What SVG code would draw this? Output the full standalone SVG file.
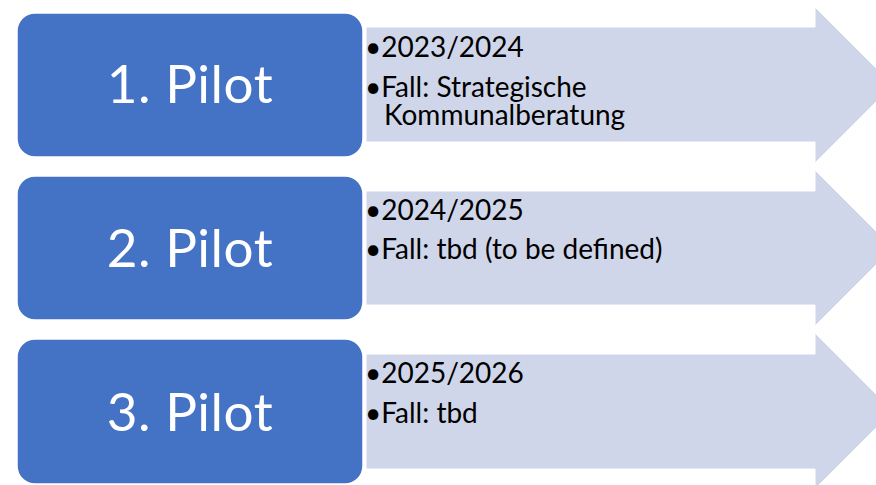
<svg xmlns="http://www.w3.org/2000/svg" width="876" height="485" viewBox="0 0 876 485">
<style>
.arrow{fill:#D0D6EA;stroke:#FFFFFF;stroke-width:1}
.box{fill:#4472C4;stroke:#FFFFFF;stroke-width:1.5}
.title{font-family:Lato,"Open Sans","Liberation Sans",sans-serif;font-size:53px;letter-spacing:0.5px;fill:#FFFFFF;text-anchor:middle}
.item{font-family:Lato,"Open Sans","Liberation Sans",sans-serif;font-size:28px;fill:#000000}
</style>
<rect width="876" height="485" fill="#FFFFFF"/>
<g id="connectors">
<polygon class="arrow" points="366,27 815,27 815,7 893,85 815,163 815,142 366,142"/>
<polygon class="arrow" points="366,191 815,191 815,170 893,248 815,326 815,305 366,305"/>
<polygon class="arrow" points="366,354 815,354 815,333 893,411 815,489 815,469 366,469"/>
</g>
<g id="node1">
<rect class="box" x="17" y="13" width="346" height="144" rx="18" ry="18"/>
<text class="title" x="190" y="103">1. Pilot</text>
<text class="item" x="365" y="57">•2023/2024</text>
<text class="item"><tspan x="365" y="97">•Fall: Strategische</tspan><tspan x="384" y="125">Kommunalberatung</tspan></text>
</g>
<g id="node2">
<rect class="box" x="17" y="176" width="346" height="144" rx="18" ry="18"/>
<text class="title" x="190" y="267">2. Pilot</text>
<text class="item" x="365" y="220">•2024/2025</text>
<text class="item" x="365" y="259">•Fall: tbd (to be defined)</text>
</g>
<g id="node3">
<rect class="box" x="17" y="339" width="346" height="145" rx="18" ry="18"/>
<text class="title" x="190" y="431">3. Pilot</text>
<text class="item" x="365" y="383">•2025/2026</text>
<text class="item" x="365" y="423">•Fall: tbd</text>
</g>
</svg>
